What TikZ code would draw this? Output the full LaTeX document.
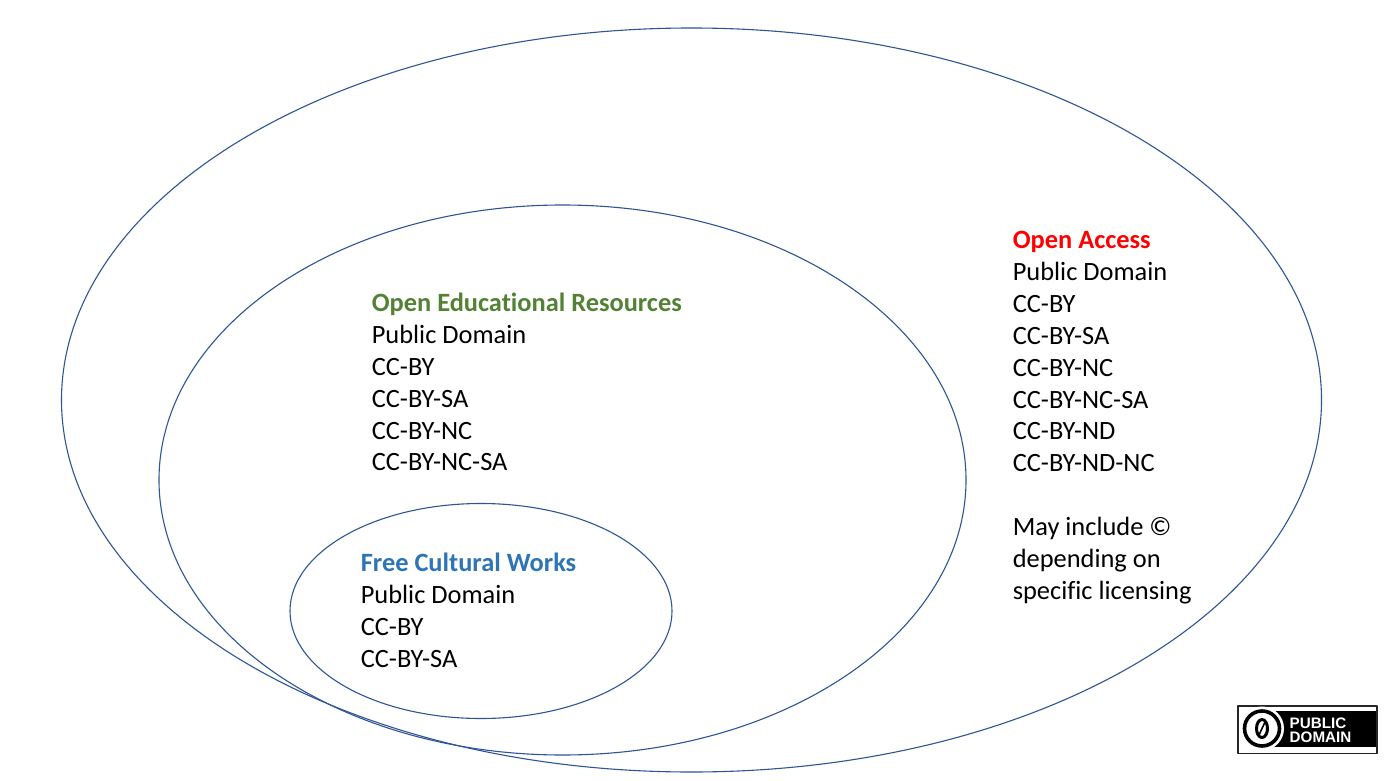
\documentclass[tikz,border=0pt]{standalone}
\usepackage{fontspec}
\setmainfont{Carlito}[Ligatures=NoCommon]
\newfontfamily\badgefont{Liberation Sans}
\definecolor{ell}{HTML}{2F5597}
\definecolor{oer}{HTML}{548235}
\definecolor{fcw}{HTML}{2E75B6}
\tikzset{
  ringshape/.style={draw=ell,line width=1.1pt,fill=none},
  txt/.style={anchor=base west,inner sep=0pt,font=\fontsize{26.4}{26.4}\selectfont},
  head/.style={txt,font=\fontsize{26.4}{26.4}\selectfont\bfseries},
  badgetxt/.style={anchor=base west,inner sep=0pt,text=white,font=\fontsize{15.2}{15.2}\selectfont\badgefont\bfseries},
}
\begin{document}
\begin{tikzpicture}[x=1pt,y=-1pt,line join=round]
\useasboundingbox (0,0) rectangle (1400,781);
\fill[white] (0,0) rectangle (1400,781);
\draw[ringshape] (691.5,400) ellipse [x radius=630,y radius=372];
\draw[ringshape] (562.5,480) ellipse [x radius=403.5,y radius=275];
\draw[ringshape] (481,611) ellipse [x radius=191,y radius=107.5];
\node[head,text=red] (oa) at (1012.6,248.3) {Open Access};
\foreach \t/\y/\n in {Public Domain/280.3/a,CC-BY/312.3/b,CC-BY-SA/344.3/c,CC-BY-NC/376.3/d,CC-BY-NC-SA/408.3/e,CC-BY-ND/439.3/f,CC-BY-ND-NC/471.3/g,May include ©/535.3/h,depending on/567.3/i,specific licensing/599.3/j}
  \node[txt] (oa\n) at (1012.6,\y) {\t};
\node[head,text=oer] (oe) at (371.6,311.3) {Open Educational Resources};
\foreach \t/\y/\n in {Public Domain/343.3/a,CC-BY/375.3/b,CC-BY-SA/407.3/c,CC-BY-NC/439.3/d,CC-BY-NC-SA/470.3/e}
  \node[txt] (oe\n) at (371.6,\y) {\t};
\node[head,text=fcw] (fc) at (360.6,571.3) {Free Cultural Works};
\foreach \t/\y/\n in {Public Domain/603.3/a,CC-BY/635.3/b,CC-BY-SA/667.3/c}
  \node[txt] (fc\n) at (360.6,\y) {\t};
% badge
\draw[black!85,line width=1.2pt,fill=white] (1238,706) rectangle (1377,753.5);
\fill[black] (1262,711) rectangle (1376.4,747);
\fill[white] (1262,728.5) circle (22);
\draw[black,line width=3.6pt,fill=white] (1262,728.5) circle (17.5);
\draw[black,line width=3pt] (1262,728.5) ellipse [x radius=5.5,y radius=9];
\draw[black,line width=1.6pt] (1259,735) -- (1265,722);
\node[badgetxt] (p1) at (1289.5,728) {PUBLIC};
\node[badgetxt] (p2) at (1289.5,742.5) {DOMAIN};
\end{tikzpicture}
\end{document}
